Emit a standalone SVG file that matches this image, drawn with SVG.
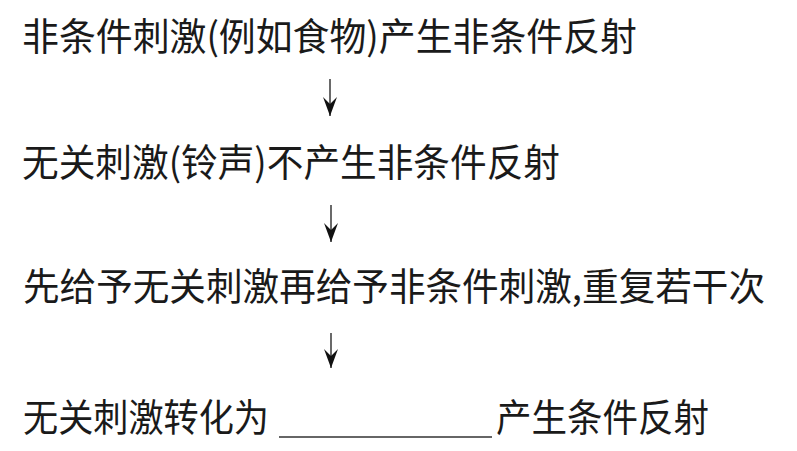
<svg xmlns="http://www.w3.org/2000/svg" width="797" height="451" viewBox="0 0 797 451">
<style>
text{font-family:"Noto Sans CJK SC","Noto Sans CJK JP",sans-serif;font-size:38px;fill:#1a1a1a;}
.c{stroke:#444;stroke-width:1.6;fill:none;}
.blank{stroke:#333;stroke-width:1.4;}
</style>
<defs>
<marker id="ah" markerUnits="userSpaceOnUse" markerWidth="22" markerHeight="16" viewBox="-20 -8 22 16" refX="0" refY="0" orient="auto">
<path d="M0,0 L-19,-7 L-12,0 L-19,7 Z" fill="#111"/>
</marker>
</defs>
<rect width="797" height="451" fill="#fff"/>
<g id="n1"><text x="22" y="50" textLength="615" lengthAdjust="spacingAndGlyphs">非条件刺激(例如食物)产生非条件反射</text></g>
<g id="n2"><text x="22" y="176" textLength="538" lengthAdjust="spacingAndGlyphs">无关刺激(铃声)不产生非条件反射</text></g>
<g id="n3"><text x="23" y="300" textLength="742" lengthAdjust="spacingAndGlyphs">先给予无关刺激再给予非条件刺激,重复若干次</text></g>
<g id="n4"><text x="23" y="431" textLength="246" lengthAdjust="spacingAndGlyphs">无关刺激转化为</text><line class="blank" x1="279" y1="437" x2="492" y2="437"/><text x="496" y="431" textLength="213" lengthAdjust="spacingAndGlyphs">产生条件反射</text></g>
<g id="connectors">
<line class="c" x1="330" y1="79" x2="330" y2="116" marker-end="url(#ah)"/>
<line class="c" x1="331" y1="205" x2="331" y2="242" marker-end="url(#ah)"/>
<line class="c" x1="331" y1="333" x2="331" y2="368" marker-end="url(#ah)"/>
</g>
</svg>
